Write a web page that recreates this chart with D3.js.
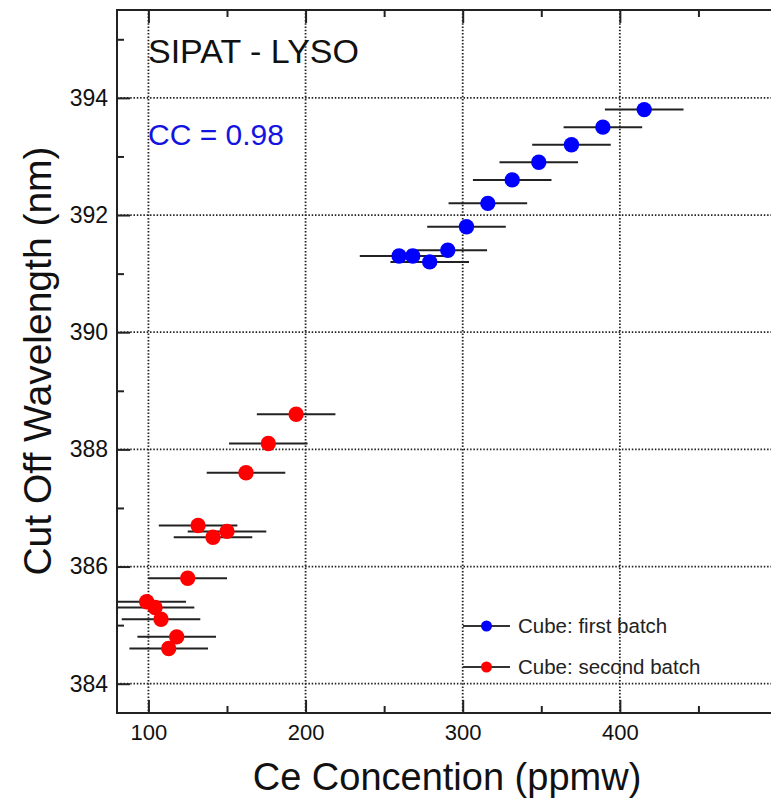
<!DOCTYPE html>
<html>
<head>
<meta charset="utf-8">
<script src="https://cdn.jsdelivr.net/npm/d3@7"></script>
<style>
  body { margin: 0; background: #fff; }
  text { font-family: "Liberation Sans", Arial, Helvetica, sans-serif; }
</style>
</head>
<body>
<div id="chart"></div>
<script>
// =============================
// DATA
// =============================
const seriesNames = ["Cube: first batch", "Cube: second batch"];
const seriesColors = ["#0000ff", "#ff0000"];

// first batch (blue)
const firstConc = [259.5, 268.2, 279, 290.5, 302.4, 316, 331.5, 348.4, 369.2, 389.2, 415.5];
const firstWave = [391.3, 391.3, 391.2, 391.4, 391.8, 392.2, 392.6, 392.9, 393.2, 393.5, 393.8];
const firstErr  = [25, 25, 25, 25, 25, 25, 25, 25, 25, 25, 25];

// second batch (red)
const secondConc = [98.9, 104.2, 108, 112.9, 118, 125, 131.6, 141.1, 150, 162.1, 176.3, 194];
const secondWave = [385.4, 385.3, 385.1, 384.6, 384.8, 385.8, 386.7, 386.5, 386.6, 387.6, 388.1, 388.6];
const secondErr  = [25, 25, 25, 25, 25, 25, 25, 25, 25, 25, 25, 25];

const xMajor = [100, 200, 300, 400];
const xMinor = [150, 250, 350, 450];
const yMajor = [384, 386, 388, 390, 392, 394];
const yMinor = [385, 387, 389, 391, 393, 395];

const titleText = "SIPAT - LYSO";
const ccText = "CC = 0.98";

// =============================
// SETUP
// =============================
const width = 771, height = 799;
const pLeft = 117, pRight = 777, pTop = 10, pBottom = 713;

const svg = d3.select("#chart").append("svg")
  .attr("width", width)
  .attr("height", height);

const x = d3.scaleLinear().domain([80, 500]).range([pLeft, pRight]);
const y = d3.scaleLinear().domain([383.5, 395.5]).range([pBottom, pTop]);

svg.append("clipPath").attr("id", "clip")
  .append("rect")
  .attr("x", pLeft).attr("y", pTop)
  .attr("width", pRight - pLeft).attr("height", pBottom - pTop);

// =============================
// GRID (dotted)
// =============================
const grid = svg.append("g");
grid.selectAll(null)
  .data(xMajor)
  .enter().append("line")
  .attr("x1", d => x(d)).attr("x2", d => x(d))
  .attr("y1", pTop).attr("y2", pBottom)
  .attr("stroke", "#222").attr("stroke-width", 1.8)
  .attr("stroke-dasharray", "1.5,1.8");
grid.selectAll(null)
  .data(yMajor)
  .enter().append("line")
  .attr("y1", d => y(d)).attr("y2", d => y(d))
  .attr("x1", pLeft).attr("x2", pRight)
  .attr("stroke", "#222").attr("stroke-width", 1.8)
  .attr("stroke-dasharray", "1.5,1.8");

// =============================
// AXES (ticks inside)
// =============================
function styleAxis(g) {
  g.select(".domain").remove();
  g.selectAll(".tick line").attr("stroke", "#222").attr("stroke-width", 2);
}

const bottomMajor = svg.append("g")
  .attr("transform", `translate(0,${pBottom})`)
  .call(d3.axisBottom(x).tickValues(xMajor).tickSize(-13).tickFormat(d3.format("d")));
styleAxis(bottomMajor);
bottomMajor.selectAll("text").attr("font-size", 22).attr("fill", "#111").attr("dy", "0").attr("y", 27);

svg.append("g")
  .attr("transform", `translate(0,${pBottom})`)
  .call(d3.axisBottom(x).tickValues(xMinor).tickSize(-7).tickFormat(""))
  .call(styleAxis);

svg.append("g")
  .attr("transform", `translate(0,${pTop})`)
  .call(d3.axisTop(x).tickValues(xMajor).tickSize(-13).tickFormat(""))
  .call(styleAxis);

svg.append("g")
  .attr("transform", `translate(0,${pTop})`)
  .call(d3.axisTop(x).tickValues(xMinor).tickSize(-7).tickFormat(""))
  .call(styleAxis);

const leftMajor = svg.append("g")
  .attr("transform", `translate(${pLeft},0)`)
  .call(d3.axisLeft(y).tickValues(yMajor).tickSize(-13).tickFormat(d3.format("d")));
styleAxis(leftMajor);
leftMajor.selectAll("text").attr("font-size", 23).attr("fill", "#111").attr("x", -9);

svg.append("g")
  .attr("transform", `translate(${pLeft},0)`)
  .call(d3.axisLeft(y).tickValues(yMinor).tickSize(-7).tickFormat(""))
  .call(styleAxis);

// frame
svg.append("rect")
  .attr("x", pLeft).attr("y", pTop)
  .attr("width", pRight - pLeft).attr("height", pBottom - pTop)
  .attr("fill", "none").attr("stroke", "#222").attr("stroke-width", 2);

// =============================
// POINTS + ERROR BARS
// =============================
const series = [
  { conc: firstConc, wave: firstWave, err: firstErr },
  { conc: secondConc, wave: secondWave, err: secondErr }
];

const plot = svg.append("g").attr("clip-path", "url(#clip)");

series.forEach((s, i) => {
  const pts = s.conc.map((c, j) => ({ c: c, w: s.wave[j], e: s.err[j] }));
  plot.selectAll(null)
    .data(pts)
    .enter().append("line")
    .attr("x1", d => x(d.c - d.e)).attr("x2", d => x(d.c + d.e))
    .attr("y1", d => y(d.w)).attr("y2", d => y(d.w))
    .attr("stroke", "#222").attr("stroke-width", 2);
});

series.forEach((s, i) => {
  const pts = s.conc.map((c, j) => ({ c: c, w: s.wave[j] }));
  plot.selectAll(null)
    .data(pts)
    .enter().append("circle")
    .attr("cx", d => x(d.c)).attr("cy", d => y(d.w))
    .attr("r", 7.7)
    .attr("fill", seriesColors[i]);
});

// =============================
// LEGEND
// =============================
const legend = svg.append("g");
seriesNames.forEach((name, i) => {
  const ly = 626 + i * 41;
  legend.append("line")
    .attr("x1", 463).attr("x2", 510)
    .attr("y1", ly).attr("y2", ly)
    .attr("stroke", "#333").attr("stroke-width", 2);
  legend.append("circle")
    .attr("cx", 486.5).attr("cy", ly).attr("r", 5.5)
    .attr("fill", seriesColors[i]);
  legend.append("text")
    .attr("x", 518).attr("y", ly + 6.5)
    .attr("font-size", 20.5).attr("fill", "#222")
    .text(name);
});

// =============================
// TEXTS
// =============================
svg.append("text")
  .attr("x", 148).attr("y", 63)
  .attr("font-size", 34).attr("fill", "#111")
  .text(titleText);

svg.append("text")
  .attr("x", 148).attr("y", 145)
  .attr("font-size", 30).attr("fill", "#1414e0")
  .text(ccText);

svg.append("text")
  .attr("x", 447).attr("y", 790)
  .attr("text-anchor", "middle")
  .attr("font-size", 38).attr("fill", "#111")
  .text("Ce Concention (ppmw)");

svg.append("text")
  .attr("transform", "translate(51,361) rotate(-90)")
  .attr("text-anchor", "middle")
  .attr("font-size", 39).attr("fill", "#111")
  .text("Cut Off Wavelength (nm)");
</script>
</body>
</html>
